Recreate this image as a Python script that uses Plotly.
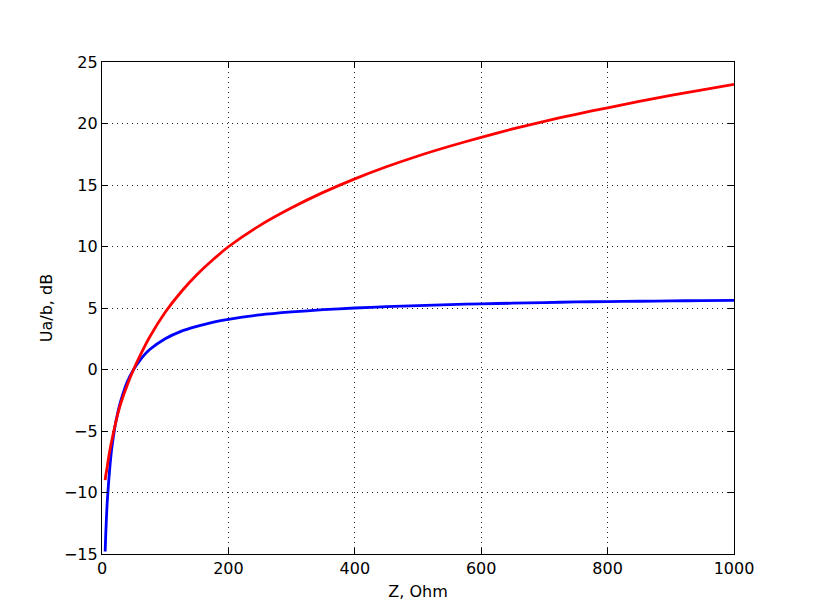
import plotly.graph_objects as go

z_ohm = [5, 6, 8, 10, 12, 15, 20, 25, 30, 40, 50, 60, 75, 100, 125, 150, 175, 200, 250, 300, 350,
         400, 450, 500, 550, 600, 650, 700, 750, 800, 850, 900, 950, 1000]
blue_db = [-14.8, -13.3, -11.0, -9.5, -8.2, -6.6, -4.8, -3.5, -2.5, -1.0, 0.0, 0.75, 1.6, 2.5, 3.1, 3.5,
           3.84, 4.08, 4.44, 4.68, 4.86, 5.0, 5.11, 5.2, 5.28, 5.34, 5.39, 5.44, 5.49, 5.52, 5.55, 5.58, 5.6, 5.62]
red_db = [-9.0, -8.6, -8.0, -7.3, -6.7, -5.9, -4.7, -3.6, -2.7, -1.25, 0.0, 1.1, 2.6, 4.65, 6.3, 7.7,
          8.9, 9.98, 11.72, 13.15, 14.4, 15.5, 16.48, 17.36, 18.15, 18.88, 19.56, 20.18, 20.75, 21.28, 21.8, 22.28, 22.74, 23.18]

x_ticks = [0, 200, 400, 600, 800, 1000]
y_ticks = [-15, -10, -5, 0, 5, 10, 15, 20, 25]

fig = go.Figure()
fig.add_trace(go.Scatter(x=z_ohm, y=blue_db, mode="lines",
                         line=dict(color="#0000ff", width=2.8, shape="spline", smoothing=0.6),
                         showlegend=False))
fig.add_trace(go.Scatter(x=z_ohm, y=red_db, mode="lines",
                         line=dict(color="#ff0000", width=2.8, shape="spline", smoothing=0.6),
                         showlegend=False))

axis_common = dict(
    showline=True, linecolor="black", linewidth=1.2, mirror="allticks",
    ticks="inside", ticklen=6, tickcolor="black", tickwidth=1,
    showgrid=True, gridcolor="#222222", gridwidth=0.8, griddash="1px,4px",
    zeroline=False,
    tickfont=dict(family="DejaVu Sans", size=16, color="black"),
)

fig.update_xaxes(range=[0, 1000], tickvals=x_ticks,
                 title=dict(text="Z, Ohm", font=dict(family="DejaVu Sans", size=16, color="black"), standoff=8),
                 **axis_common)
fig.update_yaxes(range=[-15, 25], tickvals=y_ticks,
                 title=dict(text="Ua/b, dB", font=dict(family="DejaVu Sans", size=16, color="black"), standoff=7),
                 **axis_common)

fig.update_layout(
    width=800, height=600,
    margin=dict(l=94, r=74, t=54, b=54, pad=0),
    paper_bgcolor="white", plot_bgcolor="white",
    font=dict(family="DejaVu Sans", size=16, color="black"),
)

fig.write_html("out.html")
